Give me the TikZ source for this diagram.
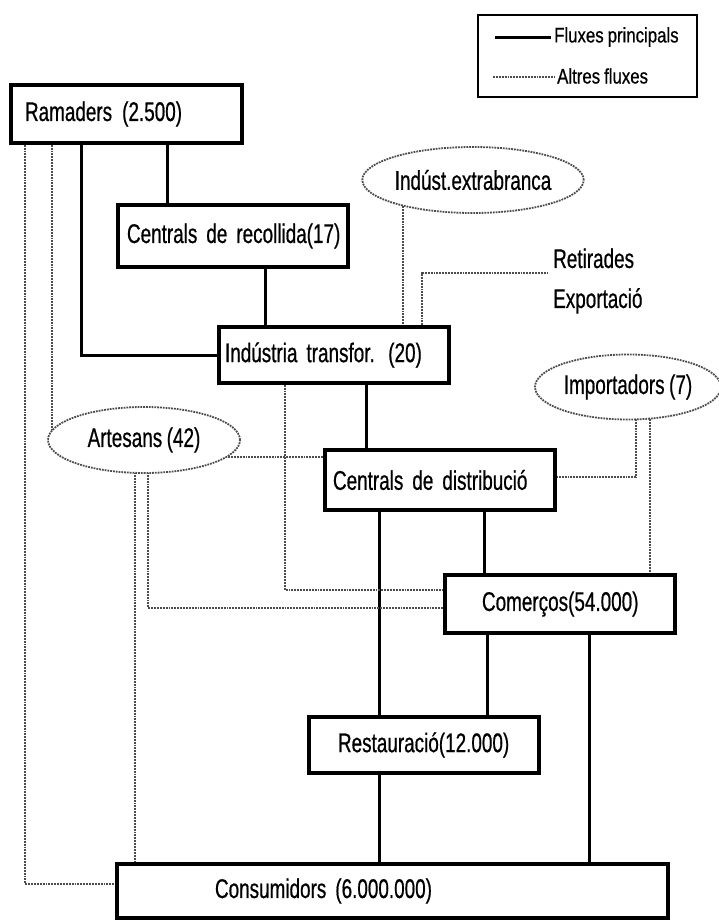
\documentclass[tikz,border=0pt]{standalone}
\usepackage{fontspec}
\setmainfont[FakeStretch=0.7,FakeBold=0.6]{Liberation Sans}
\newfontfamily\legfont[FakeStretch=0.8,FakeBold=0.6]{Liberation Sans}
\usetikzlibrary{shapes.geometric,backgrounds}
\newcommand{\mainsize}{\fontsize{27}{30}\selectfont\spaceskip=4.5pt\relax}
\newcommand{\lblsize}{\fontsize{27}{40}\selectfont\spaceskip=4.5pt\relax}
\newcommand{\legsize}{\legfont\fontsize{21}{24}\selectfont\spaceskip=4pt\relax}
\begin{document}
\begin{tikzpicture}[x=1pt,y=-1pt,
  box/.style={draw, line width=3.5pt, fill=white, rectangle, inner xsep=5pt, inner ysep=0pt,
              align=left, font=\mainsize},
  oval/.style={ellipse, draw, line width=1.8pt, densely dotted, draw=black!70, fill=white,
               inner sep=0pt, font=\mainsize},
  mainflow/.style={line width=3pt},
  otherflow/.style={line width=1.9pt, densely dotted, black!70},
  lbl/.style={inner ysep=0pt, align=left, font=\lblsize},
  legtext/.style={anchor=west, inner xsep=3pt, inner ysep=0pt, font=\legsize}
]
\useasboundingbox (0,0) rectangle (718,920);

% boxes
\node[box, text width=221pt, minimum height=58pt] (ram) at (126.5,114) {\mbox{\hspace*{9pt}Ramaders\hspace{10pt}(2.500)}};
\node[box, text width=220pt, minimum height=62pt] (rec) at (233,236) {\mbox{\hspace*{4pt}Centrals de recollida(17)}};
\node[box, text width=220pt, minimum height=56pt] (ind) at (334,355) {\mbox{\hspace*{1pt}Indústria transfor. (20)}};
\node[box, text width=220pt, minimum height=60pt] (dis) at (440,480) {\mbox{\hspace*{3pt}Centrals de distribució}};
\node[box, text width=220pt, minimum height=58pt] (com) at (560,604) {\mbox{\hspace*{32pt}Comerços(54.000)}};
\node[box, text width=220pt, minimum height=56pt] (res) at (424,745) {\mbox{\hspace*{24pt}Restauració(12.000)}};
\node[box, text width=541pt, minimum height=54pt] (con) at (392.5,891) {\mbox{\hspace*{93pt}Consumidors (6.000.000)}};

% ellipses
\node[oval, minimum width=194pt, minimum height=66pt] (ext) at (473,180) {Indúst.extrabranca};
\node[oval, minimum width=186pt, minimum height=65pt] (imp) at (628,387) {Importadors (7)};
\node[oval, minimum width=192pt, minimum height=66pt] (art) at (144,440) {Artesans (42)};

% free label
\node[lbl, anchor=west, inner xsep=6pt] (ret) at (547,281) {Retirades\\Exportació};

% legend
\node[draw, line width=2pt, minimum width=219pt, minimum height=82pt] (leg) at (587.5,56) {};
\node[legtext] (lt1) at (551,37) {Fluxes principals};
\node[legtext] (lt2) at (554,76) {Altres fluxes};
\coordinate (ls1) at (495,38);
\coordinate (ls2) at (493,77);
\draw[mainflow] (ls1) -- (ls1 -| lt1.west);
\draw[otherflow] (ls2) -- (ls2 -| lt2.west);

% column / turning coordinates
\coordinate (c52) at (52,0);
\coordinate (c81) at (81,0);
\coordinate (c135) at (135,0);
\coordinate (c167) at (167,0);
\coordinate (c265) at (265,0);
\coordinate (c366) at (366,0);
\coordinate (c379) at (379,0);
\coordinate (c403) at (403,0);
\coordinate (c484) at (484,0);
\coordinate (c487) at (487,0);
\coordinate (c589) at (589,0);
\coordinate (c650) at (650,0);
\coordinate (t1) at (25,884);
\coordinate (t2) at (422,273);
\coordinate (t3) at (285,590);
\coordinate (t4) at (148,608);
\coordinate (t5) at (0,457);
\coordinate (t6) at (636,477);

\begin{pgfonlayer}{background}
\fill[white] (0,0) rectangle (718,920);
% main flows
\draw[mainflow] (ram.south -| c167) -- (rec.north -| c167);
\draw[mainflow] (ram.south -| c81) -- (c81 |- ind.west) -- (ind.west);
\draw[mainflow] (rec.south -| c265) -- (ind.north -| c265);
\draw[mainflow] (ind.south -| c366) -- (dis.north -| c366);
\draw[mainflow] (dis.south -| c379) -- (res.north -| c379);
\draw[mainflow] (dis.south -| c484) -- (com.north -| c484);
\draw[mainflow] (com.south -| c487) -- (res.north -| c487);
\draw[mainflow] (com.south -| c589) -- (con.north -| c589);
\draw[mainflow] (res.south -| c379) -- (con.north -| c379);
% other flows
\draw[otherflow] (ram.south -| t1) -- (t1) -- (t1 -| con.west);
\draw[otherflow] (ram.south -| c52) -- (art.center -| c52);
\draw[otherflow] (ext.center -| c403) -- (ind.north -| c403);
\draw[otherflow] (ind.north -| t2) -- (t2) -- (t2 -| ret.west);
\draw[otherflow] (ind.south -| t3) -- (t3) -- (t3 -| com.west);
\draw[otherflow] (art.center -| t4) -- (t4) -- (t4 -| com.west);
\draw[otherflow] (art.center -| c135) -- (con.north -| c135);
\draw[otherflow] (art.center |- t5) -- (t5 -| dis.west);
\draw[otherflow] (imp.center -| t6) -- (t6) -- (t6 -| dis.east);
\draw[otherflow] (imp.center -| c650) -- (com.north -| c650);
\end{pgfonlayer}
\end{tikzpicture}
\end{document}
